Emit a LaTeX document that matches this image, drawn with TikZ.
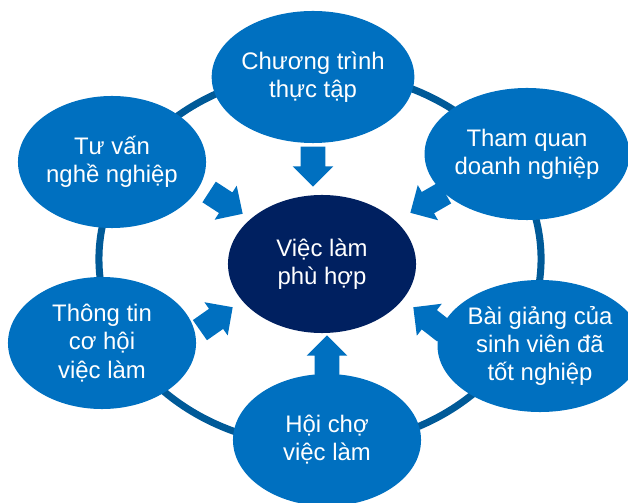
\documentclass[tikz,border=0pt]{standalone}
\usepackage{fontspec}
\setmainfont{Liberation Sans}
\usetikzlibrary{shapes.geometric,shapes.arrows}
\definecolor{spokeblue}{RGB}{0,112,192}
\definecolor{hubnavy}{RGB}{0,32,96}
\definecolor{ringblue}{RGB}{0,90,152}
\tikzset{
	spoke/.style={ellipse,fill=spokeblue,text=white,align=center,inner sep=0pt,minimum width=4.7cm,minimum height=3.3cm,font=\fontsize{17}{20}\selectfont},
	hub/.style={spoke,fill=hubnavy,minimum height=3.45cm},
	inarrow/.style={single arrow,fill=spokeblue,anchor=tip,inner xsep=0pt,inner ysep=0.3cm,single arrow head extend=0.2cm,single arrow head indent=0pt,minimum height=1cm}
}
\begin{document}
\begin{tikzpicture}[x=0.025cm,y=-0.025cm]
	\useasboundingbox (0,0) rectangle (628,503);
	% ring behind the items
	\coordinate (ringc) at (320,259);
	\draw[ringblue,line width=5pt] (ringc) ellipse [x radius=5.525cm,y radius=4.675cm];
	% items
	\node[spoke] (intern) at (313,77) {Chương trình\\thực tập};
	\node[spoke] (advice) at (112,162) {Tư vấn\\nghề nghiệp};
	\node[spoke] (visit) at (527,154) {Tham quan\\doanh nghiệp};
	\node[spoke] (info) at (102,343) {Thông tin\\cơ hội\\việc làm};
	\node[spoke] (alumni) at (540,346) {Bài giảng của\\sinh viên đã\\tốt nghiệp};
	\node[spoke] (fair) at (327,440) {Hội chợ\\việc làm};
	\node[hub] (job) at (322,264) {Việc làm\\phù hợp};
	% arrows into the hub
	\node[inarrow,rotate=-90] (a-intern) at (313,187) {};
	\node[inarrow,rotate=-33] (a-advice) at (243,214) {};
	\node[inarrow,rotate=210] (a-visit) at (410,213) {};
	\node[inarrow,rotate=35] (a-info) at (233,307) {};
	\node[inarrow,rotate=142] (a-alumni) at (413,307) {};
	\node[inarrow,rotate=90] (a-fair) at (327,335) {};
\end{tikzpicture}
\end{document}
